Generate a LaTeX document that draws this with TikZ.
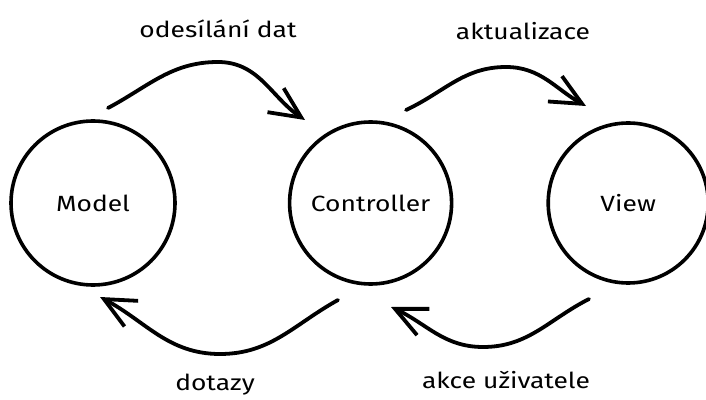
\documentclass[tikz,border=0pt]{standalone}
\usepackage{fontspec}
\setmainfont{Fira Sans}[FakeStretch=1.2]
\usetikzlibrary{arrows.meta,calc,positioning}
\tikzset{
    mvc/.style ={circle, draw, line width=3.6pt, minimum size=162pt, inner sep=0pt,
                 font=\fontsize{22}{26}\selectfont},
    flow/.style={-{Straight Barb[length=31pt,width=29pt]}, line width=3.8pt,
                 line cap=round, line join=round},
    lbl/.style ={anchor=base, font=\fontsize{22}{26}\selectfont}
}

\begin{document}
\begin{tikzpicture}[x=1pt,y=1pt]
        \useasboundingbox (0,0) rectangle (706,399);
        % The three parts
        \node[mvc,minimum size=164pt] (model) at (93,196) {Model};
        \node[mvc] (controller) [right=111pt of model] {Controller};
        \node[mvc,minimum size=160pt] (view) [right=93pt of controller] {View};
        % Ends and turning points of the arrows
        \coordinate (sendFrom) at (108,291);
        \coordinate (sendTop) at (218,337);
        \coordinate (sendTo) at (305,279);
        \coordinate (updFrom) at (406,289);
        \coordinate (updTop) at (506,332);
        \coordinate (updTo) at (586,293);
        \coordinate (queryFrom) at (338,99);
        \coordinate (queryLow) at (220,45);
        \coordinate (queryTo) at (100,102);
        \coordinate (userFrom) at (589,100);
        \coordinate (userLow) at (483,52);
        \coordinate (userTo) at (391,92);
        % Arrows over the top
        \draw[flow] (sendFrom) to[out=28,in=180] (sendTop) to[out=0,in=146] (sendTo);
        \draw[flow] (updFrom) to[out=25,in=180] (updTop) to[out=0,in=151] (updTo);
        % Arrows underneath
        \draw[flow] (queryFrom) to[out=209,in=0] (queryLow) to[out=180,in=-28] (queryTo);
        \draw[flow] (userFrom) to[out=207,in=0] (userLow) to[out=180,in=-25] (userTo);
        % Label the arrows
        \node[lbl] (sendLbl) at (218,361) {odesílání dat};
        \node[lbl] (updLbl) at (523,359) {aktualizace};
        \node[lbl] (queryLbl) at (215,9) {dotazy};
        \node[lbl] (userLbl) at (506,11) {akce uživatele};
\end{tikzpicture}
\end{document}
